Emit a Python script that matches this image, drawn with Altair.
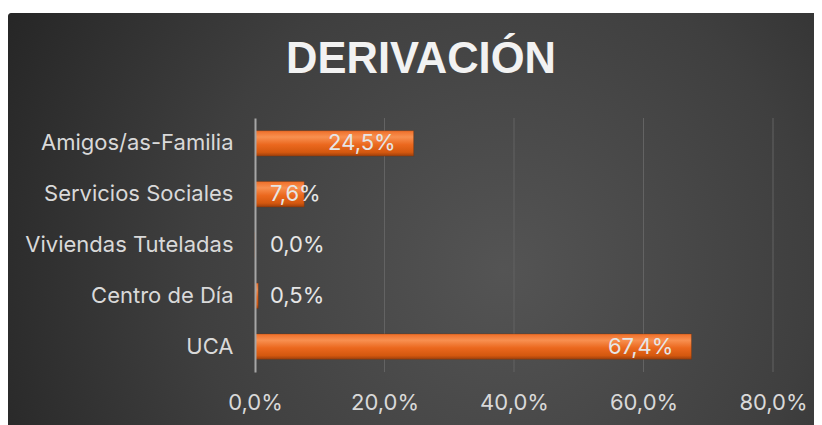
import altair as alt
import pandas as pd

categories = ["Amigos/as-Familia", "Servicios Sociales", "Viviendas Tuteladas", "Centro de Día", "UCA"]
values = [24.5, 7.6, 0.0, 0.5, 67.4]
x_ticks = [0, 20, 40, 60, 80]
grid_ticks = [20, 40, 60, 80]
title_text = ["DERIVACIÓN"]

df = pd.DataFrame({"cat": categories, "val": values})
gdf = pd.DataFrame({"g": grid_ticks})
tdf = pd.DataFrame({"t": title_text})

FONT = "Inter"
TXT = "#d9d9d9"
FS = 22
W, H = 518, 254
PL, PT, PR, PB = 247, 110, 41, 53

x_scale = alt.Scale(domain=[0, 80], nice=False)
y_scale = alt.Scale(paddingInner=0.5, paddingOuter=0.25)

bg = alt.Chart(tdf).mark_rect(
    clip=False, cornerRadius=3,
    fill={"gradient": "radial", "x1": 0.6, "y1": 0.55, "r1": 0.0,
          "x2": 0.6, "y2": 0.55, "r2": 0.75,
          "stops": [{"offset": 0, "color": "#545454"},
                    {"offset": 0.5, "color": "#3f3f3f"},
                    {"offset": 1, "color": "#202020"}]}
).encode(x=alt.value(-PL), x2=alt.value(W + PR + 20), y=alt.value(-PT + 5), y2=alt.value(H + PB + 20))

grid = alt.Chart(gdf).mark_rule(color="#636363", strokeWidth=1).encode(
    x=alt.X("g:Q", scale=x_scale), y=alt.value(0), y2=alt.value(H))

bars = alt.Chart(df).mark_bar(
    fill={"gradient": "linear", "x1": 0, "y1": 0, "x2": 0, "y2": 1,
          "stops": [{"offset": 0, "color": "#ef6e28"},
                    {"offset": 0.25, "color": "#f89050"},
                    {"offset": 0.55, "color": "#eb681e"},
                    {"offset": 0.85, "color": "#d4580f"},
                    {"offset": 1, "color": "#9c3f0c"}]},
    stroke="#7a3208", strokeWidth=0.6, strokeOpacity=0.6
).encode(
    x=alt.X("val:Q", scale=x_scale, axis=alt.Axis(
        title=None, values=x_ticks, ticks=False, domain=False, grid=False, zindex=1,
        labelFlush=False, labelOverlap=False,
        labelColor=TXT, labelFont=FONT, labelFontSize=FS, labelPadding=20,
        labelExpr="replace(format(datum.value, '.1f'), '.', ',') + '%'")),
    y=alt.Y("cat:N", sort=categories, scale=y_scale, axis=alt.Axis(
        title=None, ticks=False, domain=True, domainColor="#a6a6a6", domainWidth=2, zindex=1,
        labelLimit=400, labelColor=TXT, labelFont=FONT, labelFontSize=FS, labelPadding=22, grid=False)),
)

lab_big = alt.Chart(df).transform_filter("datum.val >= 15").transform_calculate(
    lab="replace(format(datum.val, '.1f'), '.', ',') + '%'"
).mark_text(align="right", baseline="middle", dx=-18, font=FONT, fontSize=FS, color="#e6e6e6").encode(
    x=alt.X("val:Q", scale=x_scale), y=alt.Y("cat:N", sort=categories, scale=y_scale), text="lab:N")

lab_small = alt.Chart(df).transform_filter("datum.val < 15").transform_calculate(
    lab="replace(format(datum.val, '.1f'), '.', ',') + '%'", zero="0"
).mark_text(align="left", baseline="middle", dx=15, font=FONT, fontSize=FS, color="#e6e6e6").encode(
    x=alt.X("zero:Q", scale=x_scale), y=alt.Y("cat:N", sort=categories, scale=y_scale), text="lab:N")

title = alt.Chart(tdf).mark_text(
    align="center", baseline="alphabetic", font="Liberation Sans", fontSize=43.5, fontWeight="bold",
    color="#f2f2f2", clip=False
).encode(x=alt.value(166), y=alt.value(-45), text="t:N")

chart = alt.layer(bg, grid, bars, lab_big, lab_small, title).properties(
    width=W, height=H,
    padding={"left": PL, "top": PT, "right": PR, "bottom": PB},
    autosize=alt.AutoSizeParams(type="none"),
    background="white",
).configure_view(stroke=None)

chart.save("out.html", embed_options={"renderer": "svg", "actions": False})
